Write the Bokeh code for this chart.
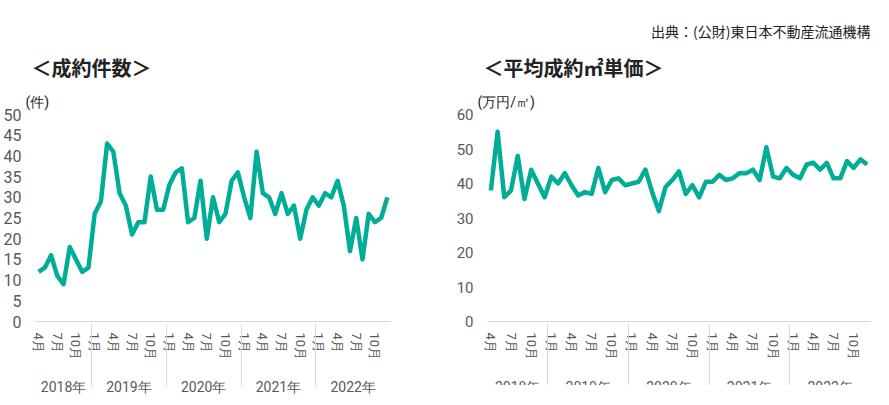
from bokeh.plotting import figure
from bokeh.models import FactorRange, Range1d, Title, SingleIntervalTicker
from bokeh.layouts import row
from bokeh.embed import file_html
from bokeh.resources import INLINE

years = ["2018年"] * 9 + ["2019年"] * 12 + ["2020年"] * 12 + ["2021年"] * 12 + ["2022年"] * 12
months = list(range(4, 13)) + list(range(1, 13)) * 4
count_vals = [12, 13, 16, 11, 9, 18, 15, 12, 13,
              26, 29, 43, 41, 31, 28, 21, 24, 24, 35, 27, 27,
              33, 36, 37, 24, 25, 34, 20, 30, 24, 26, 34, 36,
              30, 25, 41, 31, 30, 26, 31, 26, 28, 20, 27, 30,
              28, 31, 30, 34, 28, 17, 25, 15, 26, 24, 25, 30]
price_vals = [38, 55, 36, 38, 48, 35.5, 44, 40, 36,
              42, 40, 43, 39.5, 36.5, 37.5, 37, 44.5, 37.5, 41, 41.5, 39.5,
              40, 40.5, 44, 37.5, 32, 39, 41, 43.5, 37, 39.5, 36, 40.5,
              40.5, 42.5, 41, 41.5, 43, 43, 44, 41, 50.5, 42, 41.5, 44.5,
              42.5, 41.5, 45.5, 46, 44, 46, 41.5, 41.5, 46.5, 44.5, 47, 45.5]
shown_months = [1, 4, 7, 10]

def mlabel(m):
    return f"{m}月" if m in shown_months else " " * m

factors = [(y, mlabel(m)) for y, m in zip(years, months)]
LINE = "#00AE97"
GRAY = "#595959"
FONT = "Roboto"

def make(vals, ymax, step, title, unit, fw, left, right, top, top_titles, y_fs):
    p = figure(output_backend="svg", toolbar_location=None,
               x_range=FactorRange(*factors, range_padding=0, group_padding=0),
               y_range=Range1d(0, ymax), frame_width=fw, frame_height=207,
               min_border_left=left, min_border_right=right, min_border_top=top,
               min_border_bottom=0)
    p.line(x=factors, y=vals, color=LINE, line_width=4.5, line_join="round")
    p.grid.visible = False
    p.outline_line_color = None
    ya = p.yaxis[0]
    ya.ticker = SingleIntervalTicker(interval=step)
    ya.axis_line_color = None
    ya.major_tick_line_color = None
    ya.minor_tick_line_color = None
    ya.major_label_text_font = FONT
    ya.major_label_text_font_size = y_fs
    ya.major_label_text_color = GRAY
    ya.major_label_standoff = 8
    xa = p.xaxis[0]
    xa.axis_line_color = "#d9d9d9"
    xa.major_tick_line_color = None
    xa.separator_line_color = "#d9d9d9"
    xa.separator_line_width = 1
    xa.major_label_orientation = "vertical"
    xa.major_label_text_font = FONT
    xa.major_label_text_font_size = "13px"
    xa.major_label_text_color = GRAY
    xa.group_text_font = FONT
    xa.group_text_font_size = "14px"
    xa.group_text_color = GRAY
    xa.group_text_font_style = "normal"
    p.add_layout(Title(text=unit, text_font=FONT, text_font_size="14px",
                       text_font_style="normal", text_color="#222222", offset=-10), "above")
    p.add_layout(Title(text=title, text_font="Noto Sans CJK JP", text_font_size="20px",
                       text_font_style="bold", text_color="#222222", offset=-4), "above")
    for t in top_titles:
        p.add_layout(t, "above")
    return p

left_p = make(count_vals, 50, 5, "＜成約件数＞", "(件)", 355, 34, 41, 0,
              [Title(text=" ", text_font_size="30px")], "16px")
right_p = make(price_vals, 60, 10, "＜平均成約㎡単価＞", "(万円/㎡)", 383, 56, 5, 0,
               [Title(text="出典：(公財)東日本不動産流通機構", align="right",
                      text_font="Noto Sans CJK JP", text_font_size="14px",
                      text_font_style="normal", text_color="#222222")], "15px")

layout = row(left_p, right_p)
open("out.html", "w").write(file_html(layout, INLINE))
